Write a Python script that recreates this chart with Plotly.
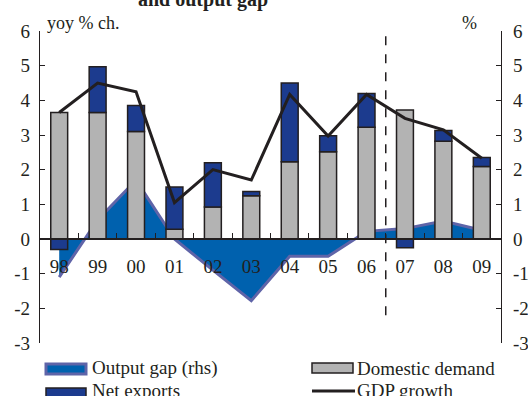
import plotly.graph_objects as go

# Years (two-digit labels)
years = ["98", "99", "00", "01", "02", "03", "04", "05", "06", "07", "08", "09"]

# Contributions to GDP growth, yoy % ch.
domestic_demand = [3.65, 3.65, 3.10, 0.28, 0.92, 1.25, 2.23, 2.52, 3.22, 3.72, 2.82, 2.09]
net_exports = [-0.30, 1.32, 0.75, 1.22, 1.28, 0.12, 2.27, 0.46, 0.98, -0.25, 0.31, 0.26]
gdp_growth = [3.65, 4.50, 4.25, 1.05, 2.00, 1.70, 4.17, 2.97, 4.17, 3.48, 3.15, 2.33]

# Output gap, % (right-hand scale)
output_gap = [-1.10, 0.55, 1.70, 0.00, -0.90, -1.78, -0.50, -0.50, 0.22, 0.30, 0.52, 0.25]

# Shared value-axis ticks, labelled with a plain hyphen for negatives
y_ticks = [-3, -2, -1, 0, 1, 2, 3, 4, 5, 6]
y_tick_text = [str(v) for v in y_ticks]

FONT = "Liberation Serif"
INK = "#231F20"
GAP_FILL = "#0061AE"
GAP_EDGE = "#5F64A8"
NX_BLUE = "#1C3B8E"
DD_GREY = "#B3B3B3"

W, H = 528, 396
L, R, T, B = 40, 27, 31, 53
PW, PH = W - L - R, H - T - B


def px(x):
    return (x - L) / PW


def py(y):
    return (H - B - y) / PH


fig = go.Figure()

# Output gap area (drawn on the primary axis so it sits beneath the bars)
fig.add_trace(go.Scatter(
    x=years, y=output_gap, mode="lines", fill="tozeroy",
    fillcolor=GAP_FILL, line=dict(color=GAP_EDGE, width=3),
    xaxis="x", yaxis="y", showlegend=False, hoverinfo="skip",
))

fig.add_trace(go.Bar(
    x=years, y=domestic_demand, width=0.44,
    marker=dict(color=DD_GREY, line=dict(color=INK, width=1.5)),
    xaxis="x", yaxis="y2", showlegend=False,
))
fig.add_trace(go.Bar(
    x=years, y=net_exports, width=0.44,
    marker=dict(color=NX_BLUE, line=dict(color=INK, width=1.5)),
    xaxis="x", yaxis="y2", showlegend=False,
))
fig.add_trace(go.Scatter(
    x=years, y=gdp_growth, mode="lines",
    line=dict(color=INK, width=3),
    xaxis="x", yaxis="y2", showlegend=False,
))

yrange = [-3, 6]
tickfont = dict(family=FONT, size=19, color=INK)

fig.update_layout(
    width=W, height=H,
    margin=dict(l=L, r=R, t=T, b=B, autoexpand=False),
    paper_bgcolor="white", plot_bgcolor="white",
    barmode="relative",
    showlegend=False,
    xaxis=dict(
        type="category", categoryorder="array", categoryarray=years,
        anchor="free", position=3 / 9, automargin=False,
        showline=True, linecolor=INK, linewidth=1.5,
        ticks="inside", tickson="boundaries", ticklen=5, tickcolor=INK, tickwidth=1,
        showgrid=False, zeroline=False,
        tickfont=tickfont, ticklabelstandoff=10,
        range=[-0.5, 11.5],
    ),
    yaxis=dict(
        range=yrange, tickvals=y_ticks, ticktext=y_tick_text, side="right",
        automargin=False,
        showline=True, linecolor=INK, linewidth=1.2,
        ticks="inside", ticklen=5, tickcolor=INK,
        showgrid=False, zeroline=False,
        tickfont=tickfont, ticklabelstandoff=7,
    ),
    yaxis2=dict(
        range=yrange, tickvals=y_ticks, ticktext=y_tick_text, side="left", overlaying="y",
        automargin=False,
        showline=True, linecolor=INK, linewidth=1.2,
        ticks="inside", ticklen=5, tickcolor=INK,
        showgrid=False, zeroline=False,
        tickfont=tickfont, ticklabelstandoff=5,
    ),
)

# Forecast divider between 06 and 07
fig.add_shape(type="line", xref="x", yref="y", x0=8.5, x1=8.5, y0=-2.2, y1=6.1,
              line=dict(color=INK, width=1.5, dash="dash"))

annotations = [
    dict(text="<b>and output gap</b>", x=px(203), y=py(13), xanchor="center", yanchor="bottom",
         font=dict(family=FONT, size=20, color=INK)),
    dict(text="yoy % ch.", x=px(45), y=py(23), xanchor="left", yanchor="middle",
         font=dict(family=FONT, size=18, color=INK)),
    dict(text="%", x=px(469), y=py(23), xanchor="center", yanchor="middle",
         font=dict(family=FONT, size=18, color=INK)),
]

# Legend keys
legend_items = [
    ("Output gap (rhs)", 90, 368),
    ("Net exports", 90, 391),
    ("Domestic demand", 355, 368),
    ("GDP growth", 355, 391),
]
for label, lx, ly in legend_items:
    annotations.append(dict(text=label, x=px(lx), y=py(ly), xanchor="left", yanchor="middle",
                            font=dict(family=FONT, size=19, color=INK)))

for a in annotations:
    a.update(xref="paper", yref="paper", showarrow=False)
fig.update_layout(annotations=annotations)

fig.add_shape(type="rect", xref="paper", yref="paper",
              x0=px(46), x1=px(86), y0=py(374), y1=py(364),
              fillcolor=GAP_FILL, line=dict(color=GAP_EDGE, width=3))
fig.add_shape(type="rect", xref="paper", yref="paper",
              x0=px(46), x1=px(86), y0=py(400), y1=py(388),
              fillcolor=NX_BLUE, line=dict(color=INK, width=1.5))
fig.add_shape(type="rect", xref="paper", yref="paper",
              x0=px(312), x1=px(353), y0=py(373), y1=py(363),
              fillcolor=DD_GREY, line=dict(color=INK, width=1.5))
fig.add_shape(type="line", xref="paper", yref="paper",
              x0=px(312), x1=px(355), y0=py(391), y1=py(391),
              line=dict(color=INK, width=3))

fig.write_html("out.html")
